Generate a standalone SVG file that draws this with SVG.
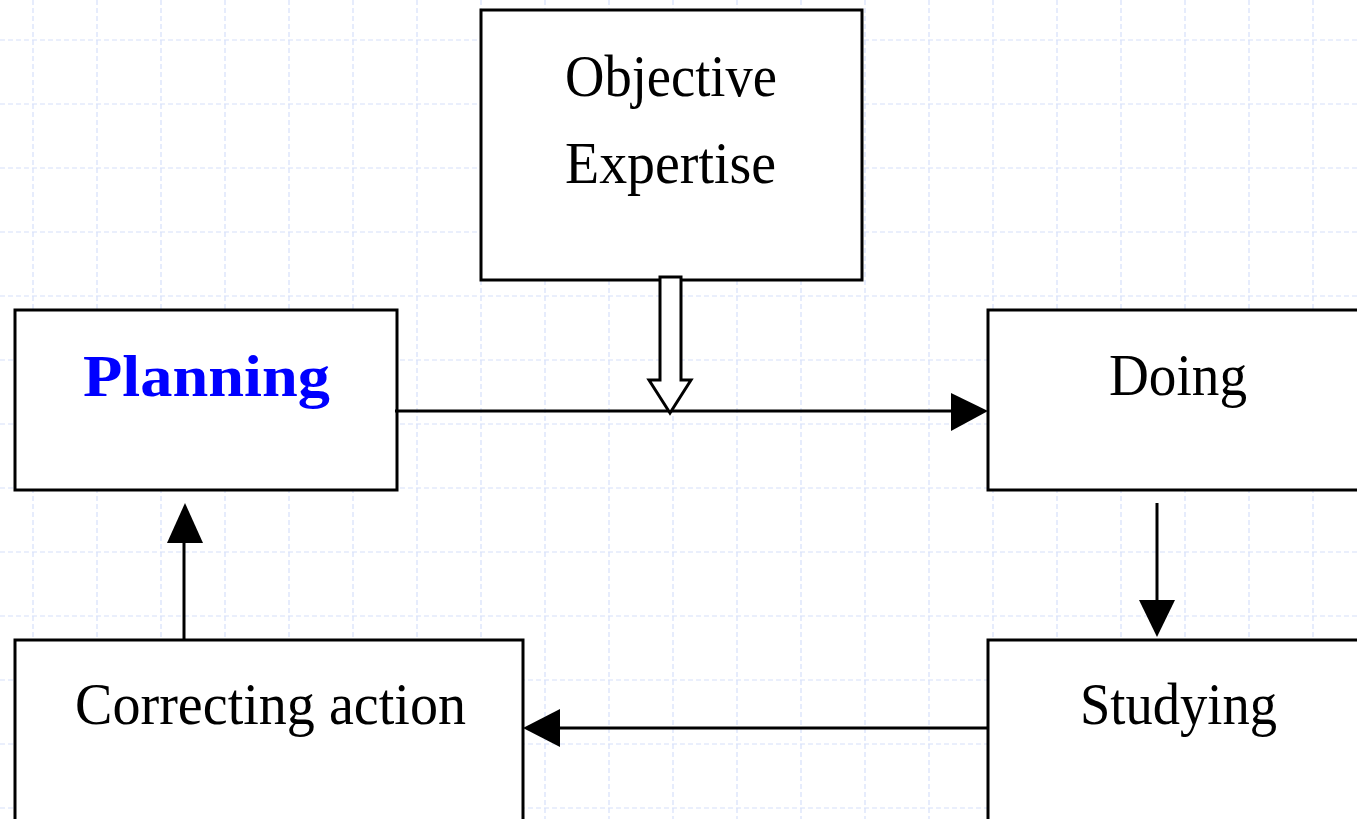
<svg xmlns="http://www.w3.org/2000/svg" width="1357" height="819" viewBox="0 0 1357 819">
<style>
.grid{stroke:#d6e0fa;stroke-width:1.2;stroke-dasharray:5 3;fill:none}
.box{fill:#fff;stroke:#000;stroke-width:3}
.lbl{font-family:"Liberation Serif","Times New Roman",serif;font-size:60px;fill:#000;text-anchor:middle}
.bold{font-weight:bold;fill:#0000ff}
.edge{stroke:#000;stroke-width:3;fill:none}
.head{fill:#000;stroke:none}
</style>
<rect width="1357" height="819" fill="#fff"/>
<path class="grid" d="M33 0V819M97 0V819M161 0V819M225 0V819M289 0V819M353 0V819M417 0V819M481 0V819M545 0V819M609 0V819M673 0V819M737 0V819M801 0V819M865 0V819M929 0V819M993 0V819M1057 0V819M1121 0V819M1185 0V819M1249 0V819M1313 0V819M0 40H1357M0 104H1357M0 168H1357M0 232H1357M0 296H1357M0 360H1357M0 424H1357M0 488H1357M0 552H1357M0 616H1357M0 680H1357M0 744H1357M0 808H1357"/>
<g id="objective">
<rect class="box" x="481" y="10" width="381" height="270"/>
<text class="lbl" x="671" y="96" textLength="212" lengthAdjust="spacingAndGlyphs">Objective</text>
<text class="lbl" x="670.5" y="183" textLength="211" lengthAdjust="spacingAndGlyphs">Expertise</text>
</g>
<g id="planning">
<rect class="box" x="15" y="310" width="382" height="180"/>
<text class="lbl bold" x="206.5" y="396" font-size="72" textLength="247" lengthAdjust="spacingAndGlyphs">Planning</text>
</g>
<g id="doing">
<rect class="box" x="988" y="310" width="372" height="180"/>
<text class="lbl" x="1178" y="395" textLength="138" lengthAdjust="spacingAndGlyphs">Doing</text>
</g>
<g id="correcting">
<rect class="box" x="15" y="640" width="508" height="182"/>
<text class="lbl" x="270.5" y="724" textLength="391" lengthAdjust="spacingAndGlyphs">Correcting action</text>
</g>
<g id="studying">
<rect class="box" x="988" y="640" width="372" height="182"/>
<text class="lbl" x="1178.5" y="724" textLength="197" lengthAdjust="spacingAndGlyphs">Studying</text>
</g>
<g id="connectors">
<path class="edge" d="M395 411H952"/>
<polygon class="head" points="951,393 988,411 951,431"/>
<path class="edge" d="M1157 503V601"/>
<polygon class="head" points="1139,600 1175,600 1157,637"/>
<path class="edge" d="M988 728H558"/>
<polygon class="head" points="560,709 560,747 523,728"/>
<path class="edge" d="M184 640V541"/>
<polygon class="head" points="167,543 203,543 185,503"/>
<polygon points="660,277 681,277 681,380 691,380 670,413 649,380 660,380" fill="#fff" stroke="#000" stroke-width="3" stroke-linejoin="miter"/>
</g>
</svg>
